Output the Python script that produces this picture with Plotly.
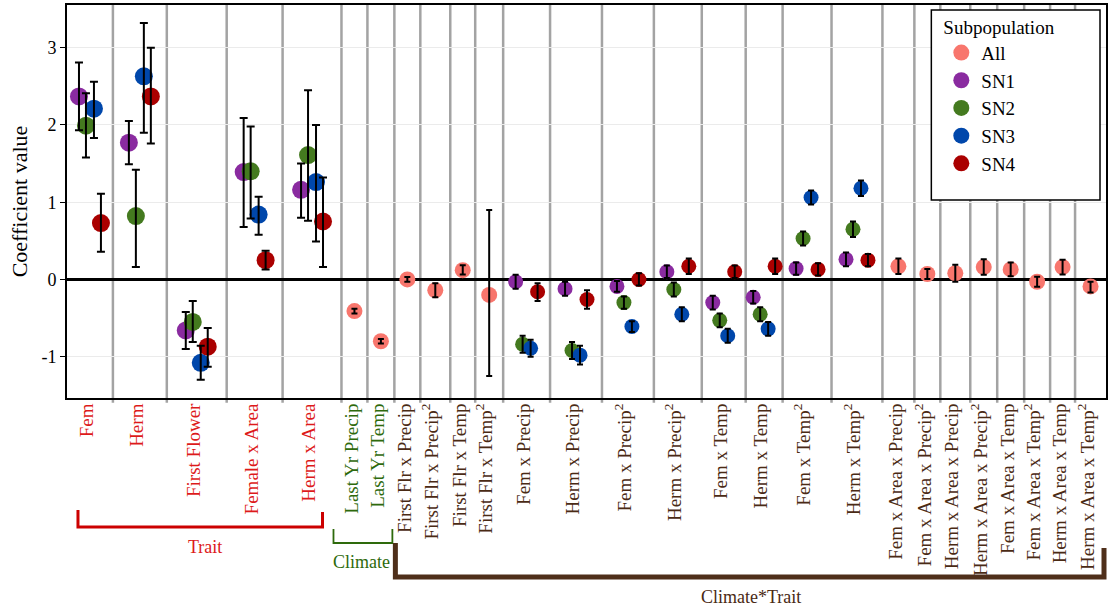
import numpy as np
import plotly.graph_objects as go

# ---------------- data ----------------
categories = [
    "Fem", "Herm", "First Flower", "Female x Area", "Herm x Area",
    "Last Yr Precip", "Last Yr Temp",
    "First Flr x Precip", "First Flr x Precip<sup>2</sup>", "First Flr x Temp", "First Flr x Temp<sup>2</sup>",
    "Fem x Precip", "Herm x Precip", "Fem x Precip<sup>2</sup>", "Herm x Precip<sup>2</sup>",
    "Fem x Temp", "Herm x Temp", "Fem x Temp<sup>2</sup>", "Herm x Temp<sup>2</sup>",
    "Fem x Area x Precip", "Fem x Area x Precip<sup>2</sup>", "Herm x Area x Precip", "Herm x Area x Precip<sup>2</sup>",
    "Fem x Area x Temp", "Fem x Area x Temp<sup>2</sup>", "Herm x Area x Temp", "Herm x Area x Temp<sup>2</sup>",
]
sections = ["Trait"] * 5 + ["Climate"] * 2 + ["Climate*Trait"] * 20
series_names = ["All", "SN1", "SN2", "SN3", "SN4"]

N = None
all_est = [N, N, N, N, N, -0.41, -0.80, 0.00, -0.14, 0.12, -0.20, N, N, N, N, N, N, N, N,
           0.17, 0.07, 0.08, 0.16, 0.13, -0.03, 0.16, -0.09]
all_lo = [N, N, N, N, N, -0.44, -0.83, -0.03, -0.23, 0.065, -1.25, N, N, N, N, N, N, N, N,
          0.07, 0.005, -0.03, 0.06, 0.04, -0.095, 0.065, -0.17]
all_hi = [N, N, N, N, N, -0.38, -0.77, 0.03, -0.05, 0.185, 0.90, N, N, N, N, N, N, N, N,
          0.27, 0.135, 0.19, 0.26, 0.22, 0.035, 0.255, -0.03]

sn1_est = [2.37, 1.77, -0.66, 1.39, 1.16, N, N, N, N, N, N,
           -0.03, -0.12, -0.09, 0.10, -0.30, -0.23, 0.14, 0.26] + [N] * 8
sn1_lo = [1.93, 1.49, -0.90, 0.68, 0.80, N, N, N, N, N, N,
          -0.12, -0.21, -0.16, 0.02, -0.39, -0.31, 0.06, 0.17] + [N] * 8
sn1_hi = [2.81, 2.05, -0.42, 2.09, 1.50, N, N, N, N, N, N,
          0.06, -0.03, -0.02, 0.18, -0.21, -0.15, 0.22, 0.35] + [N] * 8

sn2_est = [1.99, 0.82, -0.55, 1.40, 1.61, N, N, N, N, N, N,
           -0.84, -0.92, -0.30, -0.13, -0.53, -0.45, 0.53, 0.65] + [N] * 8
sn2_lo = [1.58, 0.16, -0.81, 0.79, 0.76, N, N, N, N, N, N,
          -0.95, -1.03, -0.38, -0.22, -0.62, -0.54, 0.44, 0.55] + [N] * 8
sn2_hi = [2.41, 1.42, -0.28, 1.98, 2.45, N, N, N, N, N, N,
          -0.73, -0.81, -0.22, -0.04, -0.44, -0.36, 0.62, 0.75] + [N] * 8

sn3_est = [2.21, 2.63, -1.08, 0.84, 1.26, N, N, N, N, N, N,
           -0.89, -0.98, -0.61, -0.45, -0.73, -0.64, 1.06, 1.18] + [N] * 8
sn3_lo = [1.83, 1.90, -1.30, 0.58, 0.49, N, N, N, N, N, N,
          -1.00, -1.10, -0.68, -0.54, -0.82, -0.73, 0.97, 1.08] + [N] * 8
sn3_hi = [2.56, 3.32, -0.86, 1.07, 2.00, N, N, N, N, N, N,
          -0.78, -0.86, -0.54, -0.36, -0.64, -0.55, 1.15, 1.28] + [N] * 8

sn4_est = [0.73, 2.37, -0.87, 0.25, 0.75, N, N, N, N, N, N,
           -0.16, -0.26, 0.00, 0.17, 0.10, 0.17, 0.13, 0.25] + [N] * 8
sn4_lo = [0.36, 1.76, -1.13, 0.13, 0.16, N, N, N, N, N, N,
          -0.28, -0.38, -0.08, 0.07, 0.02, 0.07, 0.05, 0.17] + [N] * 8
sn4_hi = [1.11, 3.00, -0.63, 0.37, 1.32, N, N, N, N, N, N,
          -0.05, -0.14, 0.08, 0.27, 0.18, 0.27, 0.21, 0.33] + [N] * 8

y_ticks = [-1, 0, 1, 2, 3]

# ---------------- style / layout ----------------
cat_widths = [46, 54, 60, 56, 59, 26, 27, 26, 30, 25, 28, 47, 52, 52, 48, 44, 37, 49, 51,
              32, 26, 30, 27, 27, 26, 25, 31]
series_colors = ["#F8766D", "#8A2BA0", "#447A1F", "#0047AB", "#AA0000"]
series_dodge = [0, -11, -4, 4, 11]
label_shift = -3
section_colors = {"Trait": "#DD1A1A", "Climate": "#2E6A0C", "Climate*Trait": "#4A2A14"}
bracket_colors = {"Trait": "#CC0000", "Climate": "#2E6A0C", "Climate*Trait": "#4F2F1A"}
FONT = "Liberation Serif, Times New Roman, serif"

W, H = 1109, 609
L, R, T, B = 67, 1, 5, 211
PW, PH = W - L - R, H - T - B


def px(x):
    return (x - L) / PW


def py(y):
    return (H - B - y) / PH


edges = np.concatenate([[0], np.cumsum(cat_widths)])
centers = (edges[:-1] + edges[1:]) / 2

est_all = [all_est, sn1_est, sn2_est, sn3_est, sn4_est]
lo_all = [all_lo, sn1_lo, sn2_lo, sn3_lo, sn4_lo]
hi_all = [all_hi, sn1_hi, sn2_hi, sn3_hi, sn4_hi]

fig = go.Figure()
err_traces = []
for si, name in enumerate(series_names):
    first = True
    for sec in ["Trait", "Climate", "Climate*Trait"]:
        idx = [i for i in range(len(categories)) if sections[i] == sec and est_all[si][i] is not None]
        if not idx:
            continue
        xs = [centers[i] + series_dodge[si] for i in idx]
        ys = [est_all[si][i] for i in idx]
        up = [hi_all[si][i] - est_all[si][i] for i in idx]
        dn = [est_all[si][i] - lo_all[si][i] for i in idx]
        size = 18 if sec == "Trait" else (16 if name == "All" else 15)
        fig.add_trace(go.Scatter(
            x=xs, y=ys, mode="markers", name=name, showlegend=first,
            marker=dict(color=series_colors[si], size=size, line=dict(width=0)),
            hoverinfo="skip",
        ))
        first = False
        err_traces.append(go.Scatter(
            x=xs, y=ys, mode="markers", showlegend=False, hoverinfo="skip",
            marker=dict(size=2, opacity=0),
            error_y=dict(type="data", symmetric=False, array=up, arrayminus=dn,
                         color="black", thickness=2, width=4 if sec == "Trait" else 3),
        ))
for t in err_traces:
    fig.add_trace(t)

shapes = []
for b in edges[1:-1]:
    shapes.append(dict(type="line", xref="x", yref="paper", x0=b, x1=b, y0=-0.012, y1=1,
                       line=dict(color="#A3A3A3", width=2.5), layer="below"))

# legend box
shapes.append(dict(type="rect", xref="paper", yref="paper", x0=px(933), x1=px(1102),
                   y0=py(200), y1=py(10), fillcolor="white",
                   line=dict(color="black", width=1.5), layer="above"))


def bracket(x0, x1, ytop0, ybot, ytop1, color, width):
    path = f"M {px(x0)},{py(ytop0)} L {px(x0)},{py(ybot)} L {px(x1)},{py(ybot)} L {px(x1)},{py(ytop1)}"
    return dict(type="path", xref="paper", yref="paper", path=path,
                line=dict(color=color, width=width))


shapes.append(bracket(78, 323, 510, 527, 512, bracket_colors["Trait"], 3))
shapes.append(bracket(334, 393, 529, 543, 529, bracket_colors["Climate"], 1.8))
shapes.append(bracket(396, 1106, 543, 577, 548, bracket_colors["Climate*Trait"], 5))


def sec_label(text, x, y, color):
    return dict(text=text, x=px(x), y=py(y), xref="paper", yref="paper", showarrow=False,
                xanchor="center", yanchor="middle",
                font=dict(family=FONT, size=18, color=color))


annotations = [
    sec_label("Trait", 205, 547, section_colors["Trait"]),
    sec_label("Climate", 362, 562, section_colors["Climate"]),
    sec_label("Climate*Trait", 752, 597, section_colors["Climate*Trait"]),
]

ticktext = [f'<span style="color:{section_colors[s]}">{c}</span>' for c, s in zip(categories, sections)]

fig.update_layout(
    width=W, height=H,
    margin=dict(l=L, r=R, t=T, b=B, pad=0),
    paper_bgcolor="white", plot_bgcolor="white",
    font=dict(family=FONT, color="black"),
    shapes=shapes, annotations=annotations,
    showlegend=True,
    legend=dict(
        x=px(943), y=py(9), xanchor="left", yanchor="top",
        bgcolor="rgba(0,0,0,0)", borderwidth=0,
        title=dict(text="Subpopulation", font=dict(family=FONT, size=19)),
        font=dict(family=FONT, size=19),
    ),
    xaxis=dict(
        range=[0, edges[-1]], tickmode="array", tickvals=centers + label_shift, ticktext=ticktext,
        tickangle=-90, ticks="", showgrid=False, zeroline=False,
        showline=True, mirror=True, linecolor="black", linewidth=2,
        tickfont=dict(family=FONT, size=19), ticklabelstandoff=-4,
    ),
    yaxis=dict(
        range=[-1.535, 3.553], tickmode="array", tickvals=y_ticks,
        ticktext=[str(v) for v in y_ticks],
        ticks="outside", ticklen=5, tickcolor="black", tickwidth=1,
        showgrid=True, gridcolor="#EBEBEB", gridwidth=1,
        zeroline=True, zerolinecolor="black", zerolinewidth=3,
        showline=True, mirror=True, linecolor="black", linewidth=2,
        tickfont=dict(family=FONT, size=18),
        title=dict(text="Coefficient value", font=dict(family=FONT, size=22), standoff=8),
    ),
)

fig.write_html("out.html", config={"displayModeBar": False},
               post_script="document.body.style.margin='0';document.body.style.padding='0';")
